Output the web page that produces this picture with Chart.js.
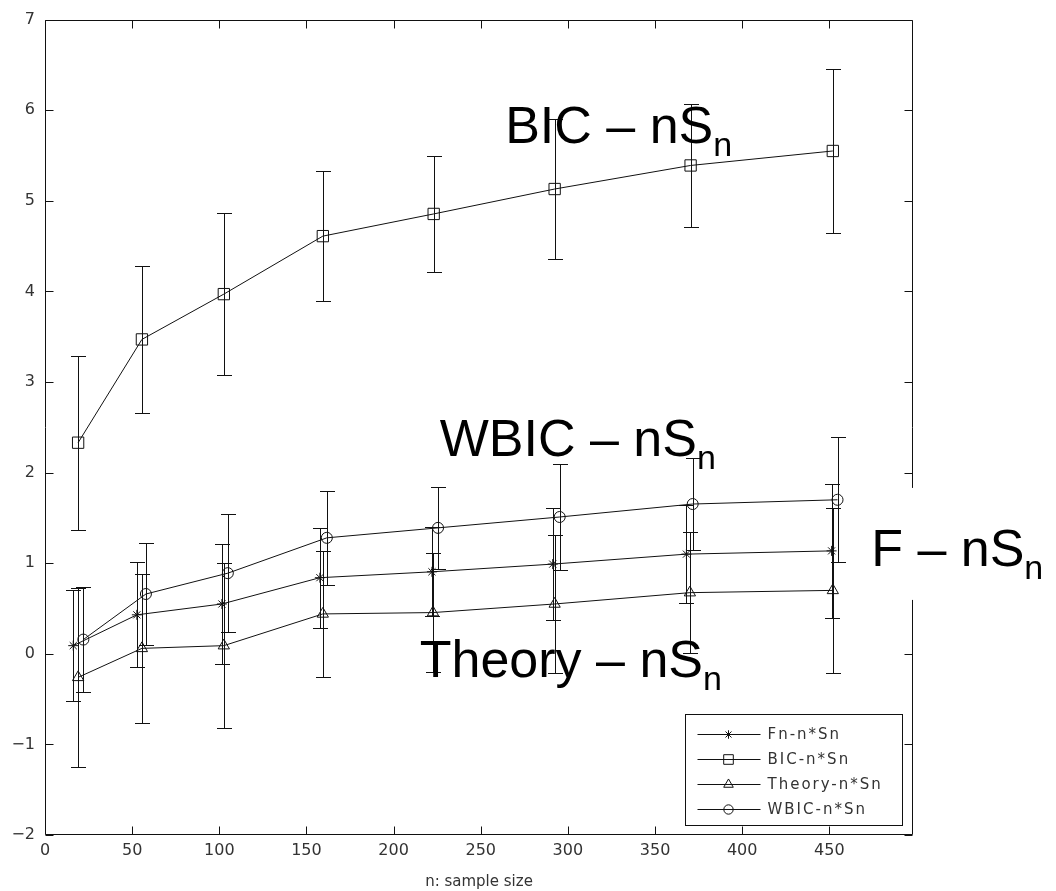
<!DOCTYPE html>
<html>
<head>
<meta charset="utf-8">
<script src="https://cdn.jsdelivr.net/npm/chart.js@4.4.1/dist/chart.umd.min.js"></script>
<style>
  html, body { margin: 0; padding: 0; background: #fff; }
  #wrap { width: 1056px; height: 891px; }
</style>
</head>
<body>
<div id="wrap"><canvas id="plot" width="1056" height="891"></canvas></div>
<script>
/* ---- data ---- */
// each series is staggered a little along n, as in the original
const F_X     = [16.2, 52.7, 101.5, 157.7, 222.0, 291.3, 368.0, 451.3];
const F_Y     = [0.09, 0.43, 0.55, 0.84, 0.905, 0.99, 1.10, 1.136];
const F_ERR   = [0.61, 0.58, 0.66, 0.55, 0.49, 0.62, 0.54, 0.74];

const BIC_X   = [19.0, 55.6, 102.6, 159.4, 223.0, 292.4, 370.4, 452.0];
const BIC_Y   = [2.33, 3.47, 3.97, 4.61, 4.855, 5.13, 5.39, 5.55];
const BIC_ERR = [0.96, 0.81, 0.89, 0.72, 0.64, 0.77, 0.68, 0.91];

const TH_X    = [19.0, 55.6, 102.6, 159.4, 222.6, 292.4, 370.0, 452.0];
const TH_Y    = [-0.26, 0.06, 0.09, 0.44, 0.455, 0.55, 0.675, 0.70];
const TH_ERR  = [0.99, 0.82, 0.91, 0.70, 0.66, 0.76, 0.67, 0.91];

const WB_X    = [22.0, 57.9, 104.9, 161.7, 225.5, 295.3, 371.6, 454.7];
const WB_Y    = [0.157, 0.66, 0.89, 1.28, 1.39, 1.51, 1.653, 1.70];
const WB_ERR  = [0.58, 0.56, 0.65, 0.52, 0.45, 0.58, 0.51, 0.69];

const X_TICKS = [0, 50, 100, 150, 200, 250, 300, 350, 400, 450];
const Y_TICKS = [-2, -1, 0, 1, 2, 3, 4, 5, 6, 7];

// big annotations: "<text>" + subscript n, anchored at data coords (left, baseline)
const NOTE_TEXT = ['BIC \u2013 nS', 'WBIC \u2013 nS', 'F \u2013 nS', 'Theory \u2013 nS'];
const NOTE_X    = [264, 226.5, 474, 215];
const NOTE_Y    = [5.64, 2.18, 0.97, -0.26];

const INK = '#111';
const LABEL_COLOR = '#333';

function pts(xs, ys) { return xs.map((x, i) => ({ x, y: ys[i] })); }

function series(label, xs, ys, err, style, r) {
  return {
    label, data: pts(xs, ys), errors: err,
    showLine: true, tension: 0,
    borderColor: INK, borderWidth: 1,
    pointStyle: style, pointRadius: r, pointHoverRadius: r,
    pointBorderColor: INK, pointBorderWidth: 1,
    pointBackgroundColor: 'rgba(0,0,0,0)',
  };
}

/* vertical error bars with caps */
const errorBars = {
  id: 'errorBars',
  beforeDatasetsDraw(chart) {
    const { ctx, scales: { x, y } } = chart;
    const cap = 7.5;
    ctx.save();
    ctx.strokeStyle = INK;
    ctx.lineWidth = 1;
    chart.data.datasets.forEach(ds => {
      ds.data.forEach((p, i) => {
        const e = ds.errors[i];
        const px = Math.round(x.getPixelForValue(p.x)) + 0.5;
        const top = Math.round(y.getPixelForValue(p.y + e)) + 0.5;
        const bot = Math.round(y.getPixelForValue(p.y - e)) + 0.5;
        ctx.beginPath();
        ctx.moveTo(px, top); ctx.lineTo(px, bot);
        ctx.moveTo(px - cap, top); ctx.lineTo(px + cap, top);
        ctx.moveTo(px - cap, bot); ctx.lineTo(px + cap, bot);
        ctx.stroke();
      });
    });
    ctx.restore();
  }
};

/* boxed axes with inward ticks on all four sides */
const frame = {
  id: 'frame',
  afterDatasetsDraw(chart) {
    const { ctx, chartArea: a, scales: { x, y } } = chart;
    const tl = 8;
    const L = Math.round(a.left) + 0.5, R = Math.round(a.right) - 0.5;
    const T = Math.round(a.top) + 0.5, B = Math.round(a.bottom) - 0.5;
    ctx.save();
    ctx.strokeStyle = INK;
    ctx.lineWidth = 1;
    ctx.beginPath();
    ctx.rect(L, T, R - L, B - T);
    x.ticks.forEach(t => {
      const px = Math.round(x.getPixelForValue(t.value)) + 0.5;
      ctx.moveTo(px, B); ctx.lineTo(px, B - tl);
      ctx.moveTo(px, T); ctx.lineTo(px, T + tl);
    });
    y.ticks.forEach(t => {
      const py = Math.round(y.getPixelForValue(t.value)) + 0.5;
      ctx.moveTo(L, py); ctx.lineTo(L + tl, py);
      ctx.moveTo(R, py); ctx.lineTo(R - tl, py);
    });
    ctx.stroke();
    ctx.restore();
  }
};

/* MATLAB style legend box in the lower right corner */
const boxLegend = {
  id: 'boxLegend',
  afterDraw(chart) {
    const { ctx, chartArea: a } = chart;
    const w = 217, h = 111;
    const left = Math.round(a.right - 228) + 0.5;
    const top = Math.round(a.bottom - 121) + 0.5;
    ctx.save();
    ctx.fillStyle = '#fff';
    ctx.fillRect(left, top, w, h);
    ctx.strokeStyle = INK;
    ctx.lineWidth = 1;
    ctx.strokeRect(left, top, w, h);
    ctx.font = '15px "DejaVu Sans"';
    ctx.letterSpacing = '2px';
    ctx.textBaseline = 'middle';
    chart.data.datasets.forEach((ds, i) => {
      const cy = Math.round(top + 19 + i * 25.3) + 0.5;
      ctx.beginPath();
      ctx.moveTo(left + 12, cy); ctx.lineTo(left + 75, cy);
      ctx.stroke();
      ctx.fillStyle = 'rgba(0,0,0,0)';
      Chart.helpers.drawPoint(ctx, {
        pointStyle: ds.pointStyle, radius: ds.pointRadius * 0.85,
        rotation: 0, borderWidth: 1
      }, left + 43, cy);
      ctx.fillStyle = LABEL_COLOR;
      ctx.fillText(ds.label, left + 82, cy + 1);
    });
    ctx.restore();
  }
};

/* large text annotations with subscript n */
const notes = {
  id: 'notes',
  afterDraw(chart) {
    const { ctx, scales: { x, y } } = chart;
    ctx.save();
    ctx.letterSpacing = '0px';
    ctx.textBaseline = 'alphabetic';
    NOTE_TEXT.forEach((txt, i) => {
      const px = x.getPixelForValue(NOTE_X[i]);
      const py = y.getPixelForValue(NOTE_Y[i]);
      ctx.font = '52px "Liberation Sans", Arial, sans-serif';
      const w = ctx.measureText(txt).width;
      ctx.font = '34px "Liberation Sans", Arial, sans-serif';
      const ws = ctx.measureText('n').width;
      if (txt.startsWith('F')) {
        // this label sits on a white box that hides the right axis
        ctx.fillStyle = '#fff';
        ctx.fillRect(px - 9, py - 78, w + ws + 16, 112);
      }
      ctx.fillStyle = '#000';
      ctx.font = '52px "Liberation Sans", Arial, sans-serif';
      ctx.fillText(txt, px, py);
      ctx.font = '34px "Liberation Sans", Arial, sans-serif';
      ctx.fillText('n', px + w, py + 13);
    });
    ctx.restore();
  }
};

const tickFont = { family: 'DejaVu Sans', size: 16 };

new Chart(document.getElementById('plot'), {
  type: 'scatter',
  data: {
    datasets: [
      series('Fn-n*Sn',     F_X,   F_Y,   F_ERR,   'star',     5),
      series('BIC-n*Sn',    BIC_X, BIC_Y, BIC_ERR, 'rect',     8),
      series('Theory-n*Sn', TH_X,  TH_Y,  TH_ERR,  'triangle', 6.5),
      series('WBIC-n*Sn',   WB_X,  WB_Y,  WB_ERR,  'circle',   5.5),
    ],
  },
  options: {
    responsive: false, animation: false, events: [],
    layout: { padding: { top: 17, right: 143, left: 0, bottom: 0 } },
    plugins: { legend: { display: false }, tooltip: { enabled: false } },
    scales: {
      x: {
        type: 'linear', min: 0, max: 498,
        afterBuildTicks: s => { s.ticks = X_TICKS.map(v => ({ value: v })); },
        afterFit: s => { s.height = 56; },
        grid: { display: false, drawTicks: false }, border: { display: false },
        ticks: { color: LABEL_COLOR, font: tickFont, padding: 6, maxRotation: 0, autoSkip: false },
        title: { display: true, text: 'n: sample size', color: LABEL_COLOR,
                 font: { family: 'DejaVu Sans', size: 15 }, padding: { top: 0, bottom: 0 } },
      },
      y: {
        type: 'linear', min: -2, max: 7,
        afterBuildTicks: s => { s.ticks = Y_TICKS.map(v => ({ value: v })); },
        afterFit: s => { s.width = 45; },
        grid: { display: false, drawTicks: false }, border: { display: false },
        ticks: { color: LABEL_COLOR, font: tickFont, padding: 10,
                 callback: v => v < 0 ? '\u2212' + Math.abs(v) : String(v) },
      },
    },
  },
  plugins: [errorBars, frame, boxLegend, notes],
});
</script>
</body>
</html>
